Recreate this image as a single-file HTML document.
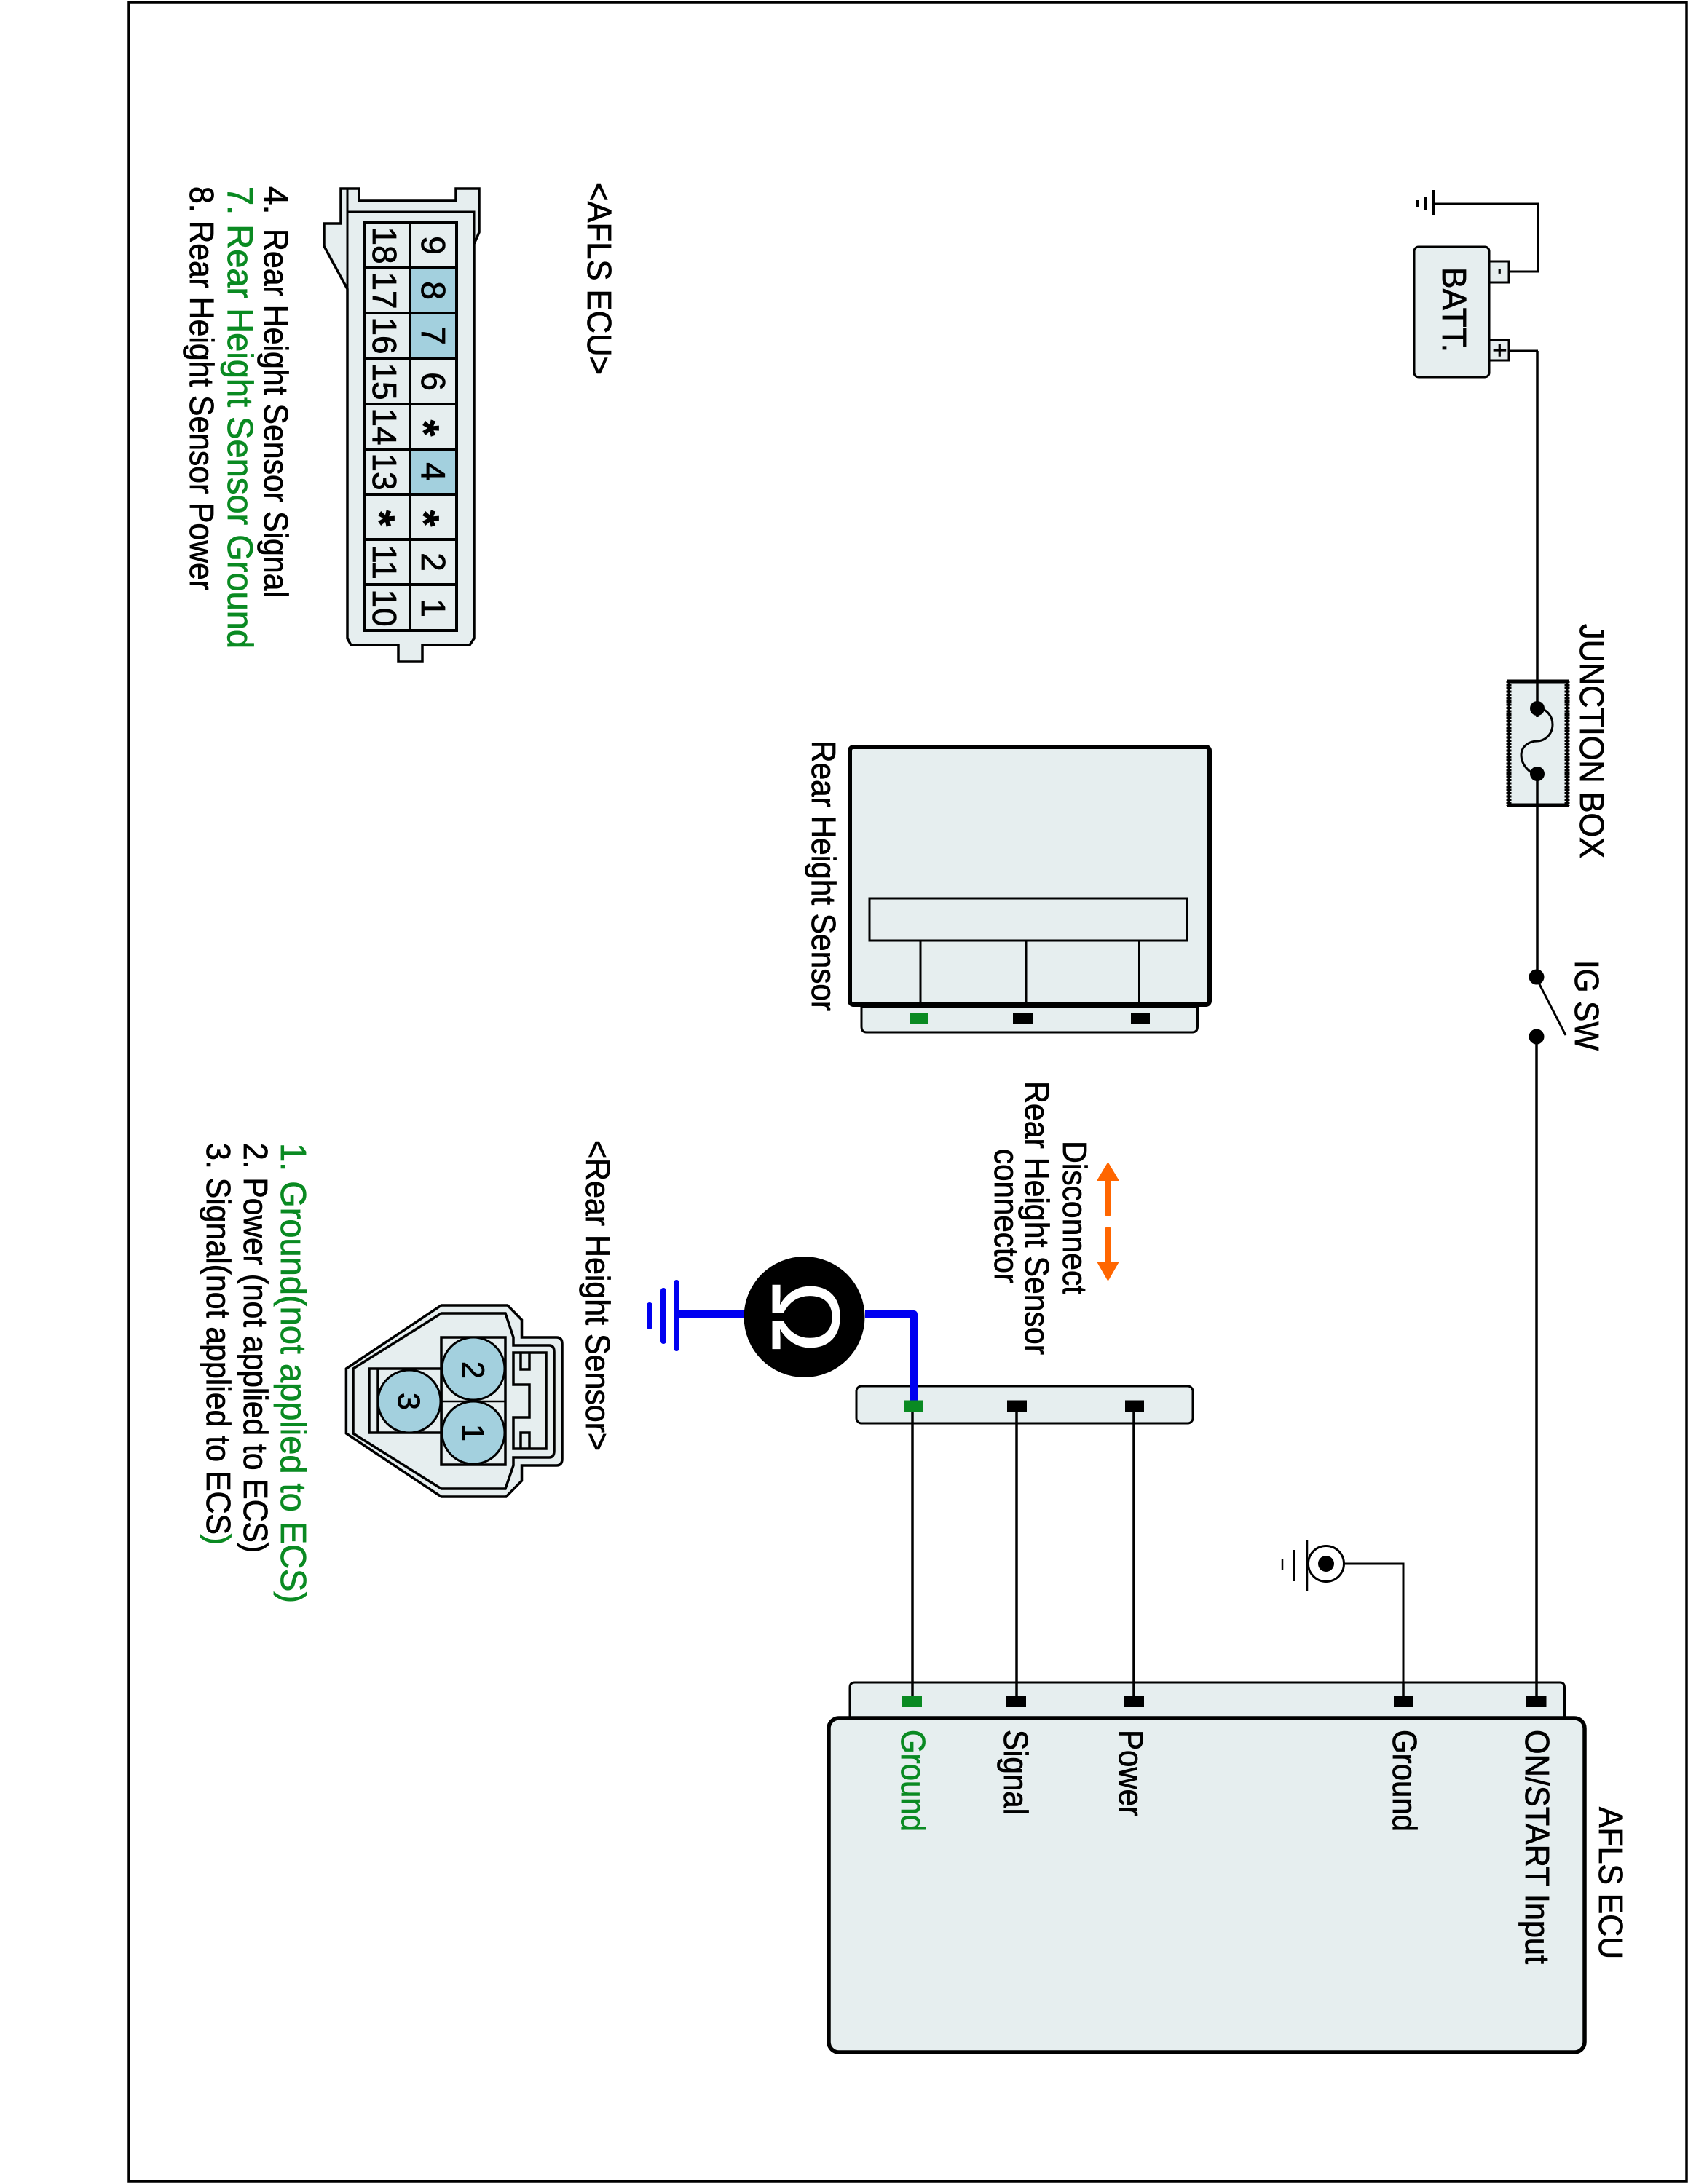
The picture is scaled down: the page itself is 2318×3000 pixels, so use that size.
<!DOCTYPE html>
<html>
<head>
<meta charset="utf-8">
<style>
html,body{margin:0;padding:0;background:#fff}
svg{display:block}
text{font-family:"Liberation Sans",sans-serif;fill:#000;stroke:#000;stroke-width:.8px}
text.g{fill:#0a8a22;stroke:#0a8a22}
rect.g{fill:#0a8a22}
.f{fill:#e6eeef;stroke:#000}
.h{fill:#a3d0de}
.n{fill:none;stroke:#000}
</style>
</head>
<body>
<svg width="2318" height="3000" viewBox="0 0 2318 3000" xmlns="http://www.w3.org/2000/svg">
<rect width="2318" height="3000" fill="#fff"/>
<rect x="177" y="3" width="2139" height="2993" fill="none" stroke="#000" stroke-width="3.5"/>

<!-- AFLS ECU connector -->
<path class="f" stroke-width="3.5" d="M468 259H493V276H626V259H658V319L651 335V877L645 886H580V909H547V886H482L477 877V397L445 338V307H468Z"/>
<path class="n" stroke-width="3" d="M477 259V291H651V335M477 291V397"/>
<rect x="500" y="306" width="127" height="560" class="f" stroke-width="4"/>
<rect x="563" y="368" width="64" height="62" class="h"/>
<rect x="563" y="430" width="64" height="62" class="h"/>
<rect x="563" y="617" width="64" height="62" class="h"/>
<path class="n" stroke-width="4" d="M500 306H627V866H500ZM563 306V866M500 368H627M500 430H627M500 492H627M500 555H627M500 617H627M500 679H627M500 741H627M500 803H627"/>
<g font-size="46" text-anchor="middle">
<text transform="translate(579,337) rotate(90)">9</text>
<text transform="translate(579,399) rotate(90)">8</text>
<text transform="translate(579,461) rotate(90)">7</text>
<text transform="translate(579,524) rotate(90)">6</text>
<text font-size="58" font-weight="bold" transform="translate(562,588) rotate(90)">*</text>
<text transform="translate(579,648) rotate(90)">4</text>
<text font-size="58" font-weight="bold" transform="translate(562,712) rotate(90)">*</text>
<text transform="translate(579,772) rotate(90)">2</text>
<text transform="translate(579,835) rotate(90)">1</text>
<text transform="translate(512,337) rotate(90)">18</text>
<text transform="translate(512,399) rotate(90)">17</text>
<text transform="translate(512,461) rotate(90)">16</text>
<text transform="translate(512,524) rotate(90)">15</text>
<text transform="translate(512,586) rotate(90)">14</text>
<text transform="translate(512,648) rotate(90)">13</text>
<text font-size="58" font-weight="bold" transform="translate(501,712) rotate(90)">*</text>
<text transform="translate(512,772) rotate(90)">11</text>
<text transform="translate(512,835) rotate(90)">10</text>
</g>
<text font-size="46" transform="translate(807,251) rotate(90)" textLength="264" lengthAdjust="spacingAndGlyphs">&lt;AFLS ECU&gt;</text>
<text font-size="46" transform="translate(363,256) rotate(90)">4.</text>
<text font-size="46" transform="translate(363,314) rotate(90)" textLength="507" lengthAdjust="spacingAndGlyphs">Rear Height Sensor Signal</text>
<text class="g" font-size="49" transform="translate(313,256) rotate(90)" textLength="635" lengthAdjust="spacingAndGlyphs">7. Rear Height Sensor Ground</text>
<text font-size="46" transform="translate(261,256) rotate(90)" textLength="555" lengthAdjust="spacingAndGlyphs">8. Rear Height Sensor Power</text>

<!-- Rear height sensor connector -->
<path class="f" stroke-width="3.5" d="M475.4 1880L606 1793H697L716.5 1813V1837H764Q772 1837 772 1846V2004Q772 2013 764 2013H716.5V2034L695 2056H606L475.4 1969Z"/>
<path class="n" stroke-width="3.5" d="M485 1880L606 1804H694L705 1837V1848H754Q761 1848 761 1857V1993Q761 2002 754 2002H705V2013L694 2045H606L485 1969Z"/>
<path class="n" stroke-width="3.5" d="M705 1858H750V1990H705V1947H727V1902H705ZM715 1858V1881H727V1858M715 1990V1968H727V1990"/>
<rect x="606" y="1837" width="88" height="175" fill="#e6eeef" stroke="#000" stroke-width="3.5"/>
<path class="n" stroke-width="2.5" d="M606 1925H694"/>
<rect x="507" y="1880" width="99" height="88" fill="#e6eeef" stroke="#000" stroke-width="3.5"/>
<path class="n" stroke-width="3.5" d="M519 1880V1968"/>
<circle cx="650" cy="1880" r="43" class="h" stroke="#000" stroke-width="3"/>
<circle cx="650" cy="1968" r="43" class="h" stroke="#000" stroke-width="3"/>
<circle cx="562" cy="1925" r="43" class="h" stroke="#000" stroke-width="3"/>
<g font-size="43" text-anchor="middle">
<text transform="translate(635,1882) rotate(90)">2</text>
<text transform="translate(635,1968) rotate(90)">1</text>
<text transform="translate(547,1925) rotate(90)">3</text>
</g>
<text font-size="46" transform="translate(805,1566) rotate(90)" textLength="427" lengthAdjust="spacingAndGlyphs">&lt;Rear Height Sensor&gt;</text>
<text class="g" font-size="49" transform="translate(386,1570) rotate(90)" textLength="632" lengthAdjust="spacingAndGlyphs">1. Ground(not applied to ECS)</text>
<text font-size="46" transform="translate(335,1570) rotate(90)" textLength="563" lengthAdjust="spacingAndGlyphs">2. Power (not applied to ECS)</text>
<text font-size="46" transform="translate(284,1570) rotate(90)" textLength="538" lengthAdjust="spacingAndGlyphs">3. Signal(not applied to ECS</text>
<text class="g" font-size="46" transform="translate(284,2107) rotate(90)">)</text>

<!-- Battery -->
<path class="n" stroke-width="3" d="M1968 280H2112V373H2072"/>
<path class="n" stroke-width="3" d="M2072 482H2112"/>
<path stroke="#000" stroke-width="4" fill="none" d="M1968 261V295"/>
<path stroke="#000" stroke-width="4" fill="none" d="M1957 270V288M1947 275V285"/>
<rect x="2045" y="359" width="27" height="29" class="f" stroke-width="3"/>
<rect x="2045" y="467" width="27" height="28" class="f" stroke-width="3"/>
<rect x="1942" y="339" width="103" height="179" rx="6" class="f" stroke-width="3"/>
<text font-size="20" font-weight="bold" text-anchor="middle" transform="translate(2054,373) rotate(90)">-</text>
<text font-size="34" text-anchor="middle" transform="translate(2048,481) rotate(90)">+</text>
<text font-size="46" transform="translate(1981,367) rotate(90)" textLength="117" lengthAdjust="spacingAndGlyphs">BATT.</text>

<!-- Main power wire -->
<path class="n" stroke-width="3.5" d="M2111 482V1342"/>
<path class="n" stroke-width="3.5" d="M2110 1424V2335"/>

<!-- Junction box -->
<rect x="2072" y="937" width="80" height="168" fill="#e6eeef" stroke="#000" stroke-width="3"/>
<path class="n" stroke-width="7" stroke-dasharray="3 1.5" d="M2072 935V1107M2152 935V1107"/>
<path class="n" stroke-width="3" d="M2069 935H2155M2069 1107H2155"/>
<path class="n" stroke-width="3.5" d="M2111 935V1107"/>
<rect x="2104" y="985" width="14" height="70" fill="#e6eeef"/>
<path class="n" stroke-width="3" d="M2111 973C2125 973 2132 985 2132 995C2132 1010 2120 1018 2111 1018C2100 1018 2089 1025 2089 1037C2089 1050 2100 1063 2111 1063"/>
<circle cx="2111" cy="973" r="10"/>
<circle cx="2111" cy="1063" r="10"/>
<text font-size="46" transform="translate(2170,857) rotate(90)" textLength="322" lengthAdjust="spacingAndGlyphs">JUNCTION BOX</text>

<!-- IG SW -->
<circle cx="2110" cy="1342" r="10.5"/>
<circle cx="2110" cy="1424" r="10.5"/>
<path class="n" stroke-width="3" d="M2113 1350L2150 1422"/>
<text font-size="46" transform="translate(2163,1319) rotate(90)" textLength="124" lengthAdjust="spacingAndGlyphs">IG SW</text>

<!-- Rear height sensor -->
<rect x="1167" y="1026" width="494" height="354" rx="5" fill="#e6eeef" stroke="#000" stroke-width="6"/>
<path class="f" stroke-width="3" d="M1183 1383H1644.5V1410Q1644.5 1418 1637 1418H1190Q1183 1418 1183 1410Z"/>
<rect x="1194" y="1234" width="436" height="58" fill="#e6eeef" stroke="#000" stroke-width="3"/>
<path class="n" stroke-width="3" d="M1264 1292V1378M1409 1292V1378M1564.5 1292V1378"/>
<rect x="1249" y="1391" width="26" height="15" class="g"/>
<rect x="1391" y="1391" width="27" height="15"/>
<rect x="1553" y="1391" width="26" height="15"/>
<text font-size="46" transform="translate(1115,1017) rotate(90)" textLength="372" lengthAdjust="spacingAndGlyphs">Rear Height Sensor</text>

<!-- Disconnect -->
<g fill="#ff6600">
<path d="M1521.5 1596L1537 1622H1526V1666Q1526 1671 1521.5 1671Q1517 1671 1517 1666V1622H1506Z"/>
<path d="M1521.5 1760L1537 1733H1526V1690Q1526 1685 1521.5 1685Q1517 1685 1517 1690V1733H1506Z"/>
</g>
<text font-size="46" transform="translate(1460,1567) rotate(90)" textLength="211" lengthAdjust="spacingAndGlyphs">Disconnect</text>
<text font-size="46" transform="translate(1408,1485) rotate(90)" textLength="376" lengthAdjust="spacingAndGlyphs">Rear Height Sensor</text>
<text font-size="46" transform="translate(1366,1578) rotate(90)" textLength="185" lengthAdjust="spacingAndGlyphs">connector</text>

<!-- Middle connector -->
<rect x="1176" y="1904" width="462" height="51" rx="7" class="f" stroke-width="3"/>
<path class="n" stroke-width="3.5" d="M1253 1935V2335M1396 1935V2335M1557 1935V2335"/>
<path class="n" stroke-width="3" d="M1846 2148H1927V2335"/>
<path fill="none" stroke="#0000f0" stroke-width="10" stroke-linejoin="round" d="M1188 1805H1255V1928"/>
<path fill="none" stroke="#0000f0" stroke-width="10" d="M1021 1805H929"/>
<path fill="none" stroke="#0000f0" stroke-width="8" stroke-linecap="round" d="M929 1762V1852M911 1773V1842M892 1793V1822"/>
<rect x="1241" y="1923.5" width="27" height="16" class="g"/>
<rect x="1383" y="1923.5" width="27" height="16"/>
<rect x="1545" y="1923.5" width="26" height="16"/>

<!-- Ohmmeter -->
<circle cx="1104.5" cy="1809" r="83"/>
<text font-size="132" text-anchor="middle" style="fill:#fff;stroke:#fff;stroke-width:1px" transform="translate(1061,1809) rotate(90)">Ω</text>

<!-- Ground symbol -->
<circle cx="1821" cy="2148" r="24.5" fill="#fff" stroke="#000" stroke-width="3"/>
<circle cx="1821" cy="2148" r="11"/>
<path class="n" stroke-width="2.5" d="M1795 2116V2185"/>
<path class="n" stroke-width="4" d="M1777 2129V2172"/>
<path class="n" stroke-width="2.5" d="M1761 2141V2156"/>

<!-- AFLS ECU -->
<path class="f" stroke-width="3" d="M1167 2362V2318Q1167 2311 1174 2311H2142Q2148.5 2311 2148.5 2318V2362Z"/>
<path class="n" stroke-width="3.5" d="M1253 2311V2335M1396 2311V2335M1557 2311V2335M1927 2311V2335M2110 2311V2335"/>
<rect x="1239" y="2329" width="27" height="16" class="g"/>
<rect x="1382" y="2329" width="27" height="16"/>
<rect x="1544" y="2329" width="27" height="16"/>
<rect x="1914" y="2329" width="27" height="16"/>
<rect x="2096" y="2329" width="27.5" height="16"/>
<rect x="1138" y="2360" width="1038" height="459" rx="14" fill="#e6eeef" stroke="#000" stroke-width="5.5"/>
<text class="g" font-size="46" transform="translate(1238,2376) rotate(90)" textLength="140" lengthAdjust="spacingAndGlyphs">Ground</text>
<text font-size="46" transform="translate(1379,2376) rotate(90)" textLength="117" lengthAdjust="spacingAndGlyphs">Signal</text>
<text font-size="46" transform="translate(1537,2376) rotate(90)" textLength="119" lengthAdjust="spacingAndGlyphs">Power</text>
<text font-size="46" transform="translate(1913,2376) rotate(90)" textLength="140" lengthAdjust="spacingAndGlyphs">Ground</text>
<text font-size="46" transform="translate(2095,2376) rotate(90)" textLength="322" lengthAdjust="spacingAndGlyphs">ON/START Input</text>
<text font-size="46" transform="translate(2196,2482) rotate(90)" textLength="209" lengthAdjust="spacingAndGlyphs">AFLS ECU</text>
</svg>
</body>
</html>
